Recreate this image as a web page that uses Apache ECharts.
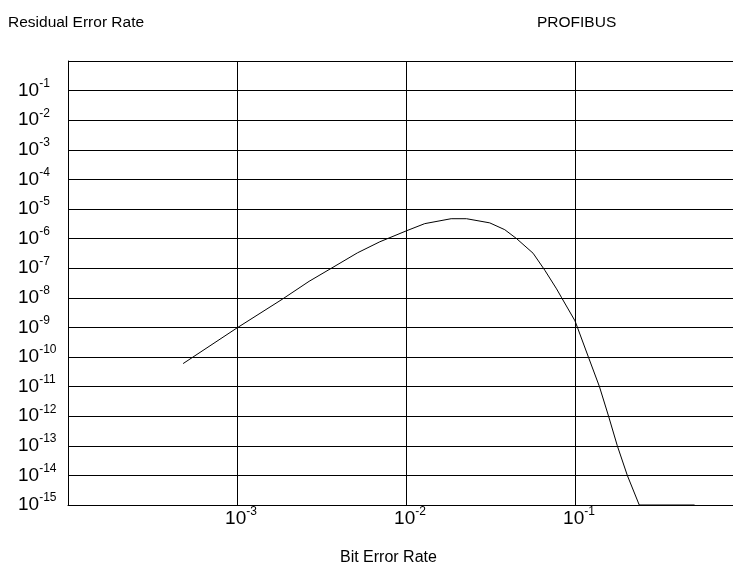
<!DOCTYPE html>
<html>
<head>
<meta charset="utf-8">
<script src="https://cdn.jsdelivr.net/npm/echarts@6/dist/echarts.min.js"></script>
<style>
  html, body { margin: 0; padding: 0; background: #fff; }
  #chart1 { width: 733px; height: 567px; }
</style>
</head>
<body>
<div id="chart1"></div>
<script>
// bit error rate (x) and residual error rate (y)
var bitErrorRate = [4.8e-4, 1.0e-3, 1.85e-3, 2.67e-3, 3.6e-3, 5.16e-3, 7.0e-3, 1.01e-2, 1.29e-2,
    1.85e-2, 2.28e-2, 3.13e-2, 3.84e-2, 4.51e-2, 5.65e-2, 6.63e-2, 7.78e-2, 8.34e-2,
    0.1, 0.12, 0.1395, 0.158, 0.178, 0.204, 0.24, 0.51];
var residualErrorRate = [6.0e-11, 9.6e-10, 8.9e-9, 3.6e-8, 9.8e-8, 3.3e-7, 7.8e-7, 1.85e-6, 3.2e-6,
    4.7e-6, 4.7e-6, 3.4e-6, 2.0e-6, 1.0e-6, 3.2e-7, 8.5e-8, 2.0e-8, 1.0e-8,
    1.66e-9, 1e-10, 1e-11, 1e-12, 1e-13, 1e-14, 1e-15, 1e-15];
var xTickExp = [-3, -2, -1];
var yMinExp = -15, yMaxExp = 0;

function showChart(xs, ys)
{
    var Chart1 = echarts.init(document.getElementById('chart1'));

    var supRich = {
        b: { fontSize: 19, lineHeight: 26, color: '#000', fontFamily: 'Liberation Sans' },
        s: { fontSize: 12, lineHeight: 12, verticalAlign: 'top', color: '#000', fontFamily: 'Liberation Sans' }
    };
    var xRich = {
        b: { fontSize: 19, lineHeight: 26, color: '#000', fontFamily: 'Liberation Sans', padding: [0, 0, 0, 8] },
        s: { fontSize: 12, lineHeight: 12, verticalAlign: 'top', color: '#000', fontFamily: 'Liberation Sans' }
    };
    var titleFont = { fontSize: 15.5, fontWeight: 'normal', color: '#000', fontFamily: 'Liberation Sans' };

    var option1 = {
        backgroundColor: '#fff',
        animation: false,
        title: [
            { text: 'Residual Error Rate', left: 8, top: 15, padding: 0, textStyle: titleFont },
            { text: 'PROFIBUS', left: 537, top: 15, padding: 0, textStyle: titleFont },
            { text: 'Bit Error Rate', left: 340, top: 550, padding: 0,
              textStyle: { fontSize: 16, fontWeight: 'normal', color: '#000', fontFamily: 'Liberation Sans' } }
        ],
        grid: { left: 68, top: 61, width: 676, height: 444, containLabel: false, outerBoundsMode: 'none' },
        xAxis: {
            type: 'log',
            logBase: 10,
            min: 1e-4,
            max: 1,
            interval: 1,
            axisLine: { show: true, lineStyle: { color: '#000', width: 1 } },
            axisTick: { show: false },
            splitLine: { show: true, lineStyle: { color: '#000', width: 1 } },
            axisLabel: {
                margin: 1,
                rich: xRich,
                formatter: function (v) {
                    var e = Math.round(Math.log10(v));
                    if (xTickExp.indexOf(e) < 0) return '';
                    return '{b|10}{s|' + e + '}';
                }
            }
        },
        yAxis: {
            type: 'log',
            logBase: 10,
            min: Math.pow(10, yMinExp),
            max: Math.pow(10, yMaxExp),
            interval: 1,
            axisLine: { show: true, lineStyle: { color: '#000', width: 1 } },
            axisTick: { show: false },
            splitLine: { show: true, lineStyle: { color: '#000', width: 1 } },
            axisLabel: {
                align: 'left',
                margin: 50,
                rich: supRich,
                formatter: function (v) {
                    var e = Math.round(Math.log10(v));
                    if (e >= yMaxExp) return '';
                    return '{b|10}{s|' + e + '}';
                }
            }
        },
        series: [
            {
                name: 'PROFIBUS',
                type: 'line',
                symbol: 'none',
                smooth: false,
                lineStyle: { color: '#000', width: 1 },
                data: (function () {
                    var res = [];
                    for (var i = 0; i < xs.length; i++) {
                        res.push([xs[i], ys[i]]);
                    }
                    return res;
                })()
            }
        ]
    };
    Chart1.setOption(option1);

    window.onresize = function () {
        Chart1.resize();
    };
}

showChart(bitErrorRate, residualErrorRate);
</script>
</body>
</html>
